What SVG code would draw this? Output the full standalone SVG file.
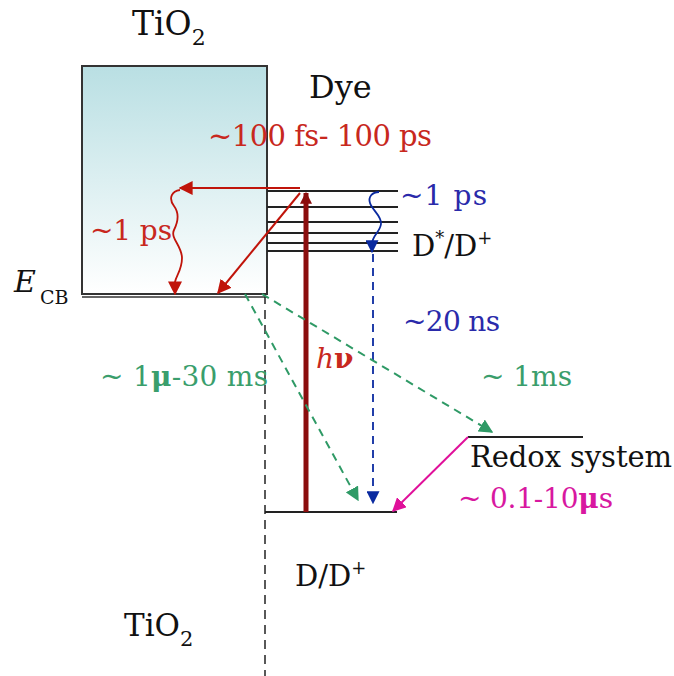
<svg xmlns="http://www.w3.org/2000/svg" width="674" height="676" viewBox="0 0 674 676">
<defs>
<linearGradient id="tio2" x1="0" y1="0" x2="0" y2="1">
<stop offset="0" stop-color="#b9dfe3"/>
<stop offset="1" stop-color="#ffffff"/>
</linearGradient>
<marker id="ar" viewBox="0 0 10 10" refX="9" refY="5" markerWidth="14" markerHeight="14" markerUnits="userSpaceOnUse" orient="auto"><path d="M0,0 L10,5 L0,10 z" fill="#c0140a"/></marker>
<marker id="ad" viewBox="0 0 10 10" refX="9" refY="5" markerWidth="12" markerHeight="12" markerUnits="userSpaceOnUse" orient="auto"><path d="M0,0 L10,5 L0,10 z" fill="#8b0d0d"/></marker>
<marker id="ab" viewBox="0 0 10 10" refX="9" refY="5" markerWidth="13" markerHeight="13" markerUnits="userSpaceOnUse" orient="auto"><path d="M0,0 L10,5 L0,10 z" fill="#0a2aa0"/></marker>
<marker id="ag" viewBox="0 0 10 10" refX="9" refY="5" markerWidth="14" markerHeight="14" markerUnits="userSpaceOnUse" orient="auto"><path d="M0,0 L10,5 L0,10 z" fill="#2f9a66"/></marker>
<marker id="am" viewBox="0 0 10 10" refX="9" refY="5" markerWidth="14" markerHeight="14" markerUnits="userSpaceOnUse" orient="auto"><path d="M0,0 L10,5 L0,10 z" fill="#e0109a"/></marker>
</defs>
<style>
text{font-family:"DejaVu Serif","Liberation Serif",serif;}
.k{fill:#111;}
.red{fill:#c8281e;}
.blue{fill:#2a2aaa;}
.green{fill:#3a9e6c;}
.mag{fill:#d818a0;}
.lvl{stroke:#222;stroke-width:2;fill:none;}
</style>

<g id="tio2-box">
<rect x="82" y="66" width="185" height="228" fill="url(#tio2)" stroke="#333" stroke-width="2"/>
<line x1="82" y1="297" x2="267" y2="297" stroke="#333" stroke-width="1.5"/>
</g>

<g id="dye-levels">
<line class="lvl" x1="267" y1="191" x2="398" y2="191"/>
<line class="lvl" x1="267" y1="207" x2="398" y2="207"/>
<line class="lvl" x1="267" y1="222" x2="398" y2="222"/>
<line class="lvl" x1="267" y1="233" x2="398" y2="233"/>
<line class="lvl" x1="267" y1="243" x2="398" y2="243"/>
<line class="lvl" x1="267" y1="251" x2="398" y2="251"/>
</g>

<g id="ground-level">
<line class="lvl" x1="265" y1="512" x2="397" y2="512"/>
</g>

<g id="redox-level">
<line class="lvl" x1="468" y1="437" x2="583" y2="437"/>
</g>

<g id="interface">
<line x1="265" y1="295" x2="265" y2="676" stroke="#222" stroke-width="1.5" stroke-dasharray="9,6"/>
</g>

<g id="connectors">
<line x1="306" y1="512" x2="306" y2="193" stroke="#8b0d0d" stroke-width="5" marker-end="url(#ad)"/>
<line x1="300" y1="188" x2="180" y2="188" stroke="#c0140a" stroke-width="2" marker-end="url(#ar)"/>
<line x1="300" y1="193" x2="218" y2="293" stroke="#c0140a" stroke-width="2" marker-end="url(#ar)"/>
<path d="M180,190 C172,191 168,198 174,206 C180,214 178,222 174,230 C170,238 182,246 182,258 C182,270 176,276 175,282 L175,294" stroke="#c0140a" stroke-width="1.8" fill="none" marker-end="url(#ar)"/>
<path d="M379,192 C372,192 368,197 370,203 C372,210 382,216 381,224 C380,232 372,236 372,244 L372,252" stroke="#0a2aa0" stroke-width="1.8" fill="none" marker-end="url(#ab)"/>
<line x1="373" y1="254" x2="373" y2="503" stroke="#0a2aa0" stroke-width="1.8" stroke-dasharray="8,6" marker-end="url(#ab)"/>
<line x1="245" y1="294" x2="358" y2="500" stroke="#2f9a66" stroke-width="2" stroke-dasharray="8,6" marker-end="url(#ag)"/>
<line x1="262" y1="294" x2="492" y2="432" stroke="#2f9a66" stroke-width="2" stroke-dasharray="8,6" marker-end="url(#ag)"/>
<line x1="468" y1="437" x2="393" y2="511" stroke="#e0109a" stroke-width="2" marker-end="url(#am)"/>
</g>

<g id="labels">
<text class="k" x="132" y="35" font-size="33">TiO<tspan font-size="22" dy="10">2</tspan></text>
<text class="k" x="309" y="98" font-size="32">Dye</text>
<text class="red" x="208" y="146" font-size="29" textLength="224">~100 fs- 100 ps</text>
<text class="blue" x="400" y="205" font-size="28" textLength="87">~1 ps</text>
<text class="red" x="90" y="240" font-size="28" textLength="82">~1 ps</text>
<text class="k" x="412" y="256" font-size="29">D<tspan font-size="18" dy="-12">*</tspan><tspan dy="12">/D</tspan><tspan font-size="18" dy="-12">+</tspan></text>
<text class="k" x="14" y="292" font-size="30" font-style="italic">E</text>
<text class="k" x="40" y="304" font-size="19">CB</text>
<text class="blue" x="403" y="331" font-size="28" textLength="97">~20 ns</text>
<text class="red" x="316" y="368" font-size="28"><tspan font-style="italic">h</tspan><tspan font-weight="bold">ν</tspan></text>
<text class="green" x="100" y="386" font-size="28" textLength="168">~ 1<tspan font-weight="bold">μ</tspan>-30 ms</text>
<text class="green" x="481" y="386" font-size="28" textLength="91">~ 1ms</text>
<text class="k" x="470" y="467" font-size="29" textLength="202">Redox system</text>
<text class="mag" x="458" y="508" font-size="28" textLength="155">~ 0.1-10<tspan font-weight="bold">μ</tspan>s</text>
<text class="k" x="295" y="586" font-size="29">D/D<tspan font-size="18" dy="-12">+</tspan></text>
<text class="k" x="124" y="636" font-size="31">TiO<tspan font-size="21" dy="10">2</tspan></text>
</g>
</svg>
